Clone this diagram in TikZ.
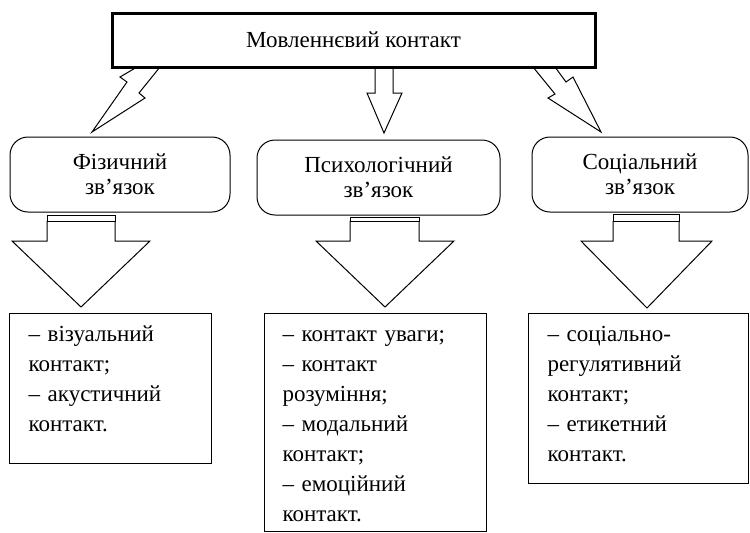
\documentclass[tikz,border=0pt]{standalone}
\usepackage{fontspec}
\setmainfont{Liberation Serif}

\begin{document}
\begin{tikzpicture}[
    x=0.5pt, y=-0.5pt,
    mainbox/.style={
        draw,
        line width=1.5pt,
        minimum width=241.5pt,
        minimum height=27pt,
        font=\fontsize{11.5pt}{12.5pt}\selectfont,
    },
    topicbox/.style={
        draw,
        line width=0.5pt,
        rounded corners=9pt,
        minimum height=37.5pt,
        align=center,
        font=\fontsize{11.5pt}{12.5pt}\selectfont,
    },
    listbox/.style={
        draw,
        line width=0.5pt,
        anchor=north west,
        align=left,
        inner xsep=9.5pt,
        inner ysep=0pt,
        text height=14pt,
        font=\fontsize{11.5pt}{15pt}\selectfont,
    },
    blockarrow/.style={
        draw,
        line width=0.5pt,
        line join=miter,
    }
]
    \useasboundingbox (0,0) rectangle (750,532);

    % Main box
    \node[mainbox] (speech) at (353.5,40) {Мовленнєвий контакт};

    % Kinds of contact
    \node[topicbox, minimum width=110pt] (phys) at (120,174.5) {Фізичний\\зв’язок};
    \node[topicbox, minimum width=121.5pt] (psych) at (378.5,177.5) {Психологічний\\зв’язок};
    \node[topicbox, minimum width=108pt] (soc) at (640,174.5) {Соціальний\\зв’язок};

    % Lists
    \node[listbox, text width=82pt, text depth=61pt] (physlist) at (9,313)
        {– візуальний\\контакт;\\– акустичний\\контакт.};
    \node[listbox, text width=93pt, inner xsep=9pt, text depth=95pt] (psychlist) at (264,313)
        {– контакт уваги;\\– контакт\\розуміння;\\– модальний\\контакт;\\– емоційний\\контакт.};
    \node[listbox, text width=91pt, text depth=71pt] (soclist) at (528,313)
        {– соціально-\\регулятивний\\контакт;\\– етикетний\\контакт.};

    % Arrows from the main box
    \draw[blockarrow] (137,67) -- (120,77) -- (127,82) -- (92,132) -- (145,98) -- (139,93) -- (160,67);
    \draw[blockarrow] (375,67) -- (375,93) -- (367,93) -- (384,133) -- (402,93) -- (393,93) -- (393,67);
    \draw[blockarrow] (533,67) -- (555,94) -- (548,98) -- (601,132) -- (573,77) -- (566,82) -- (555,67);

    % Arrows to the lists
    \draw[blockarrow] (47,215) rectangle (115,221);
    \draw[blockarrow] (47,221) -- (47,241) -- (12,241) -- (81,307) -- (150,241) -- (115,241) -- (115,221);
    \draw[blockarrow] (350,217) rectangle (419,221);
    \draw[blockarrow] (350,221) -- (350,241) -- (316,241) -- (385,307) -- (454,241) -- (419,241) -- (419,221);
    \draw[blockarrow] (613,214) rectangle (679,221);
    \draw[blockarrow] (613,221) -- (613,241) -- (581,241) -- (647,308) -- (712,241) -- (679,241) -- (679,221);

\end{tikzpicture}
\end{document}
